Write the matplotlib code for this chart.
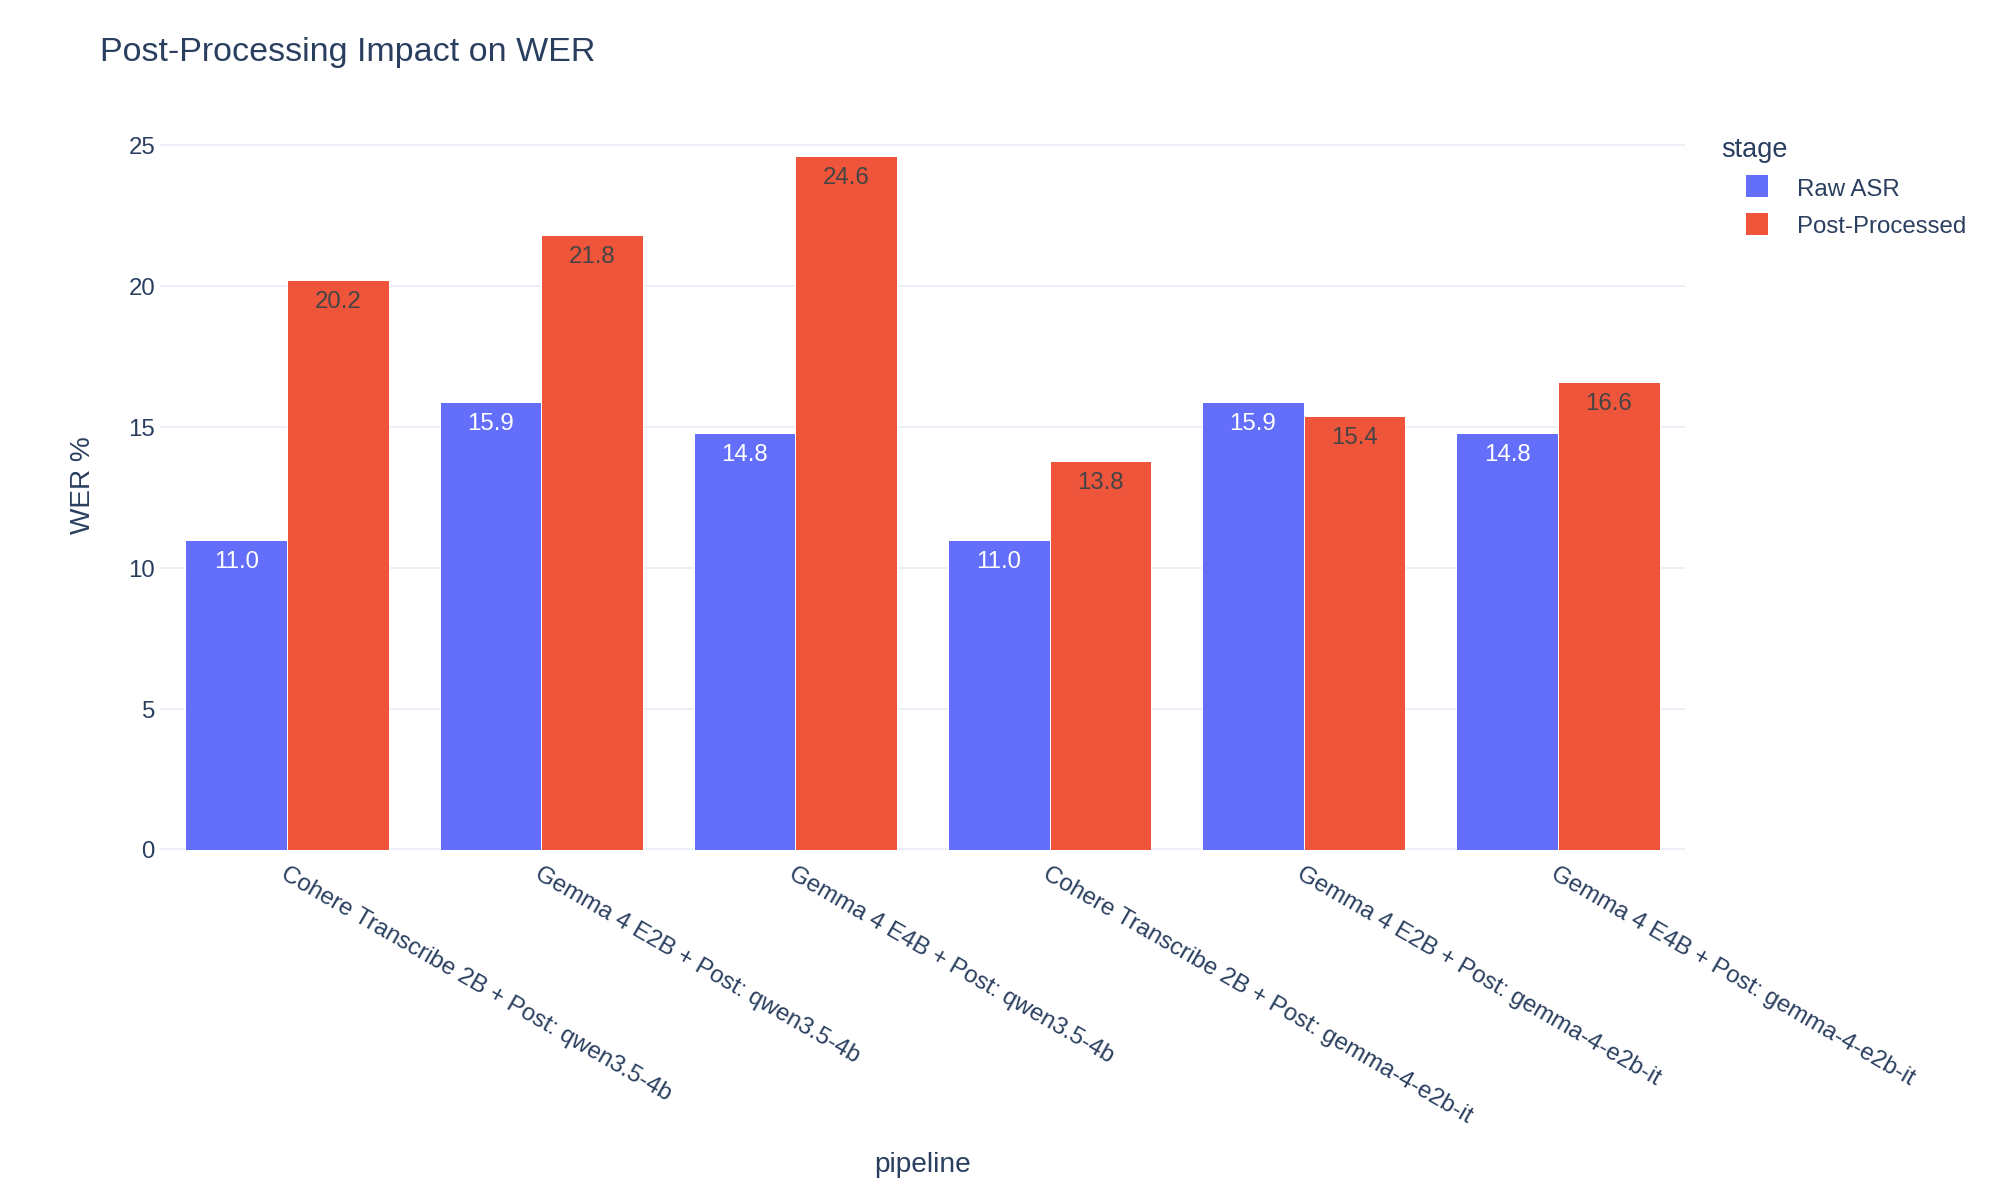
import matplotlib
matplotlib.use("Agg")
import matplotlib.pyplot as plt
from matplotlib.patches import Rectangle
import numpy as np

pipelines = [
    "Cohere Transcribe 2B + Post: qwen3.5-4b",
    "Gemma 4 E2B + Post: qwen3.5-4b",
    "Gemma 4 E4B + Post: qwen3.5-4b",
    "Cohere Transcribe 2B + Post: gemma-4-e2b-it",
    "Gemma 4 E2B + Post: gemma-4-e2b-it",
    "Gemma 4 E4B + Post: gemma-4-e2b-it",
]
stages = ["Raw ASR", "Post-Processed"]
raw_asr = [11.0, 15.9, 14.8, 11.0, 15.9, 14.8]
post_processed = [20.2, 21.8, 24.6, 13.8, 15.4, 16.6]
yticks = [0, 5, 10, 15, 20, 25]

colors = ["#636efa", "#EF553B"]
text_colors = ["#ffffff", "#444444"]
FONT = "Liberation Sans"
DARK = "#2a3f5f"
GRID = "#EBF0F8"

plt.rcParams["font.family"] = [FONT, "DejaVu Sans"]

W, H = 2000, 1200
fig = plt.figure(figsize=(20, 12), dpi=100)
fig.patch.set_facecolor("white")
ax = fig.add_axes([160 / W, 1 - 850 / H, (1685 - 160) / W, (850 - 120) / H])
ax.set_facecolor("white")

n = len(pipelines)
x = np.arange(n)
bw = 0.4
series = [raw_asr, post_processed]
for k, vals in enumerate(series):
    pos = x + (k - 0.5) * bw
    ax.bar(pos, vals, width=bw, color=colors[k], edgecolor="white",
           linewidth=0.72, zorder=3)
    for p, v in zip(pos, vals):
        ax.annotate(f"{v:.1f}", xy=(p, v), xytext=(0, -28),
                    textcoords="offset pixels", ha="center", va="baseline",
                    fontsize=17.3, color=text_colors[k], zorder=4)

ax.set_xlim(-0.5, n - 0.5)
ax.set_ylim(0, 25.89)
ax.set_yticks(yticks)
ax.set_yticklabels([str(t) for t in yticks])
ax.tick_params(axis="y", length=0, pad=3.6, labelsize=17.3, labelcolor=DARK)
ax.set_xticks(x)
ax.set_xticklabels([])
ax.tick_params(axis="x", length=0)
for t in yticks:
    if t == 0:
        ax.axhline(0, color=GRID, linewidth=2.9, zorder=2)
    else:
        ax.axhline(t, color=GRID, linewidth=1.44, zorder=1)
for s in ax.spines.values():
    s.set_visible(False)

for i, lab in enumerate(pipelines):
    ax.annotate(lab, xy=(i, 0), xytext=(-8, -28), textcoords="offset pixels",
                rotation=-30, rotation_mode="anchor", ha="left", va="baseline",
                fontsize=17.3, color=DARK, annotation_clip=False)

fig.text(100 / W, 1 - 52 / H, "Post-Processing Impact on WER", fontsize=24.5,
         color=DARK, ha="left", va="center")
fig.text(83 / W, 1 - 485 / H, "WER %", rotation=90, fontsize=20.2,
         color=DARK, ha="center", va="center")
fig.text(923 / W, 1 - 1165 / H, "pipeline", fontsize=20.2,
         color=DARK, ha="center", va="center")

# legend
fig.text(1721 / W, 1 - 157 / H, "stage", fontsize=19.5, color=DARK,
         ha="left", va="baseline")
for k, (name, ytop, ybase) in enumerate(zip(stages, [174, 212], [196, 233])):
    fig.patches.append(Rectangle((1745 / W, 1 - (ytop + 23) / H), 23 / W, 23 / H,
                                 transform=fig.transFigure, facecolor=colors[k],
                                 edgecolor="white", linewidth=0.72))
    fig.text(1797 / W, 1 - ybase / H, name, fontsize=17.3, color=DARK,
             ha="left", va="baseline")

fig.savefig("out.png", dpi=100, facecolor="white")
